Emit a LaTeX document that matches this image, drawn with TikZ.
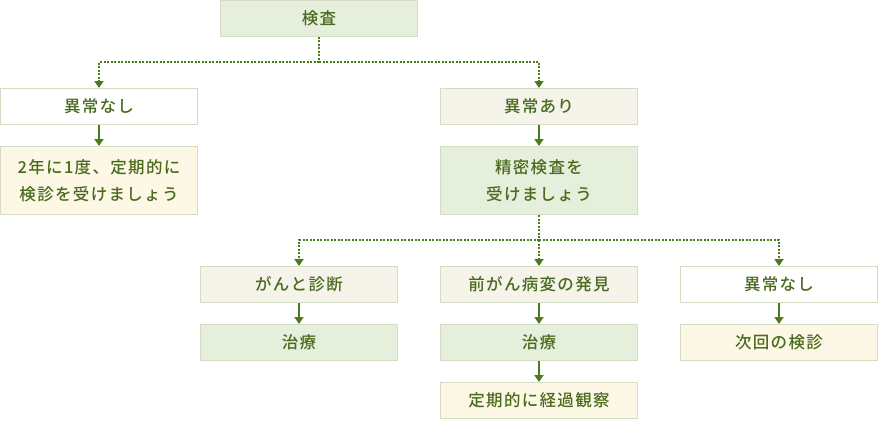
\documentclass[tikz,border=0pt]{standalone}
\usepackage{fontspec}
\setmainfont{Noto Sans CJK JP Medium}[LetterSpace=8]
\usetikzlibrary{arrows.meta}
\definecolor{txtgreen}{HTML}{4A6A1E}
\definecolor{arrgreen}{HTML}{4B7A1C}
\definecolor{edgegray}{HTML}{D4DCC3}
\definecolor{fillgreen}{HTML}{E6EEDC}
\definecolor{fillbeige}{HTML}{F5F3EA}
\definecolor{fillyellow}{HTML}{FDF8E6}

\begin{document}
\begin{tikzpicture}[x=1pt,y=-1pt]
\tikzstyle{every node}+=[inner sep=0pt]
\tikzstyle{box}=[draw=edgegray,line width=1pt,minimum width=197pt,minimum height=36pt,
  text=txtgreen,align=center,font=\fontsize{16.5}{27.5}\selectfont]
\tikzstyle{tallbox}=[box,minimum height=68pt]
\tikzstyle{dotline}=[arrgreen,line width=2pt,dash pattern=on 2pt off 1.5pt]
\tikzstyle{arr}=[-{Triangle[length=7pt,width=9pt]}]
\useasboundingbox (0,0) rectangle (880,420);
% first row
\node [box,fill=fillgreen] (kensa) at (319,18.5) {検査};
\node [box,fill=white] (nashiA) at (99,106.5) {異常なし};
\node [tallbox,fill=fillyellow] (teiki) at (99,180.5) {2年に1度、定期的に\\検診を受けましょう};
\node [box,fill=fillbeige] (ari) at (539,106.5) {異常あり};
\node [tallbox,fill=fillgreen] (seimitsu) at (539,180.5) {精密検査を\\受けましょう};
% second row
\node [box,fill=fillbeige] (gan) at (299,284.5) {がんと診断};
\node [box,fill=fillgreen] (chiryoA) at (299,342.5) {治療};
\node [box,fill=fillbeige] (zengan) at (539,284.5) {前がん病変の発見};
\node [box,fill=fillgreen] (chiryoB) at (539,342.5) {治療};
\node [box,fill=fillyellow] (keika) at (539,400.5) {定期的に経過観察};
\node [box,fill=white] (nashiB) at (779,284.5) {異常なし};
\node [box,fill=fillyellow] (jikai) at (779,342.5) {次回の検診};
% branches
\coordinate (brA) at (319,62);
\coordinate (brB) at (539,240);
\draw [dotline] (kensa.south) -- (brA);
\draw [dotline,arr] (brA) -| (nashiA.north);
\draw [dotline,arr] (brA) -| (ari.north);
\draw [dotline] (seimitsu.south) -- (brB);
\draw [dotline,arr] (brB) -| (gan.north);
\draw [dotline,arr] (brB) -- (zengan.north);
\draw [dotline,arr] (brB) -| (nashiB.north);
% steps
\draw [arrgreen,line width=2pt,arr] (nashiA) -- (teiki);
\draw [arrgreen,line width=2pt,arr] (ari) -- (seimitsu);
\draw [arrgreen,line width=2pt,arr] (gan) -- (chiryoA);
\draw [arrgreen,line width=2pt,arr] (zengan) -- (chiryoB);
\draw [arrgreen,line width=2pt,arr] (chiryoB) -- (keika);
\draw [arrgreen,line width=2pt,arr] (nashiB) -- (jikai);
\end{tikzpicture}
\end{document}
